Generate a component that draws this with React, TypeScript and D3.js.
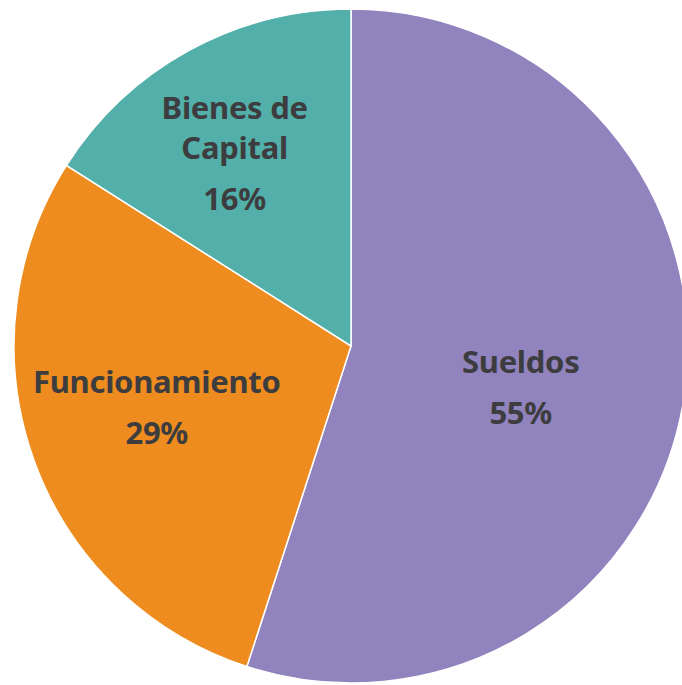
import * as d3 from "d3";
import { useEffect, useRef } from "react";

// datos
const categories = ["Sueldos", "Funcionamiento", "Bienes de\nCapital"];
const values = [55, 29, 16];
const colors = ["#9183bd", "#ee8c1f", "#52afa9"];

// pequeños ajustes de posicion de las etiquetas respecto al centroide
const nudges: [number, number][] = [[-30, 10], [-4, -7], [-19, -15]];

const App = () => {
  const svgRef = useRef<SVGSVGElement>(null);

  useEffect(() => {
    const w = 682;
    const h = 685;
    const cx = 351;
    const cy = 346;
    const r = 337;

    const svg = d3.select(svgRef.current).attr("width", w).attr("height", h);
    svg.selectAll("*").remove();

    const g = svg.append("g").attr("transform", `translate(${cx},${cy})`);

    const pie = d3.pie<number>().sort(null).value((d) => d);
    const arcs = pie(values);
    const arc = d3.arc<d3.PieArcDatum<number>>().innerRadius(0).outerRadius(r);
    const labelArc = d3
      .arc<d3.PieArcDatum<number>>()
      .innerRadius(r * 0.6)
      .outerRadius(r * 0.6);

    g.selectAll(".slice")
      .data(arcs)
      .join("path")
      .attr("class", "slice")
      .attr("d", arc)
      .attr("fill", (d, i) => colors[i])
      .attr("stroke", "#fff")
      .attr("stroke-width", 1.5);

    const capH = 22;
    const nameGap = 40;
    const pctGap = 51;

    arcs.forEach((d, i) => {
      const [x0, y0] = labelArc.centroid(d);
      const x = x0 + nudges[i][0];
      const y = y0 + nudges[i][1];
      const lines = categories[i].split("\n");
      const total = nameGap * (lines.length - 1) + pctGap;
      const first = y - (capH + total) / 2 + capH;

      const t = g
        .append("text")
        .attr("text-anchor", "middle")
        .attr("font-family", "'Noto Sans', sans-serif")
        .attr("font-weight", 700)
        .attr("font-size", 31)
        .attr("letter-spacing", -0.3)
        .attr("fill", "#3d3d3f");

      lines.forEach((ln, j) => {
        t.append("tspan").attr("x", x).attr("y", first + j * nameGap).text(ln);
      });
      t.append("tspan")
        .attr("x", x)
        .attr("y", first + nameGap * (lines.length - 1) + pctGap)
        .text(`${values[i]}%`);
    });
  }, []);

  return (
    <svg
      ref={svgRef}
      style={{ position: "absolute", left: 0, top: 0, background: "#fff" }}
    ></svg>
  );
};

export default App;
